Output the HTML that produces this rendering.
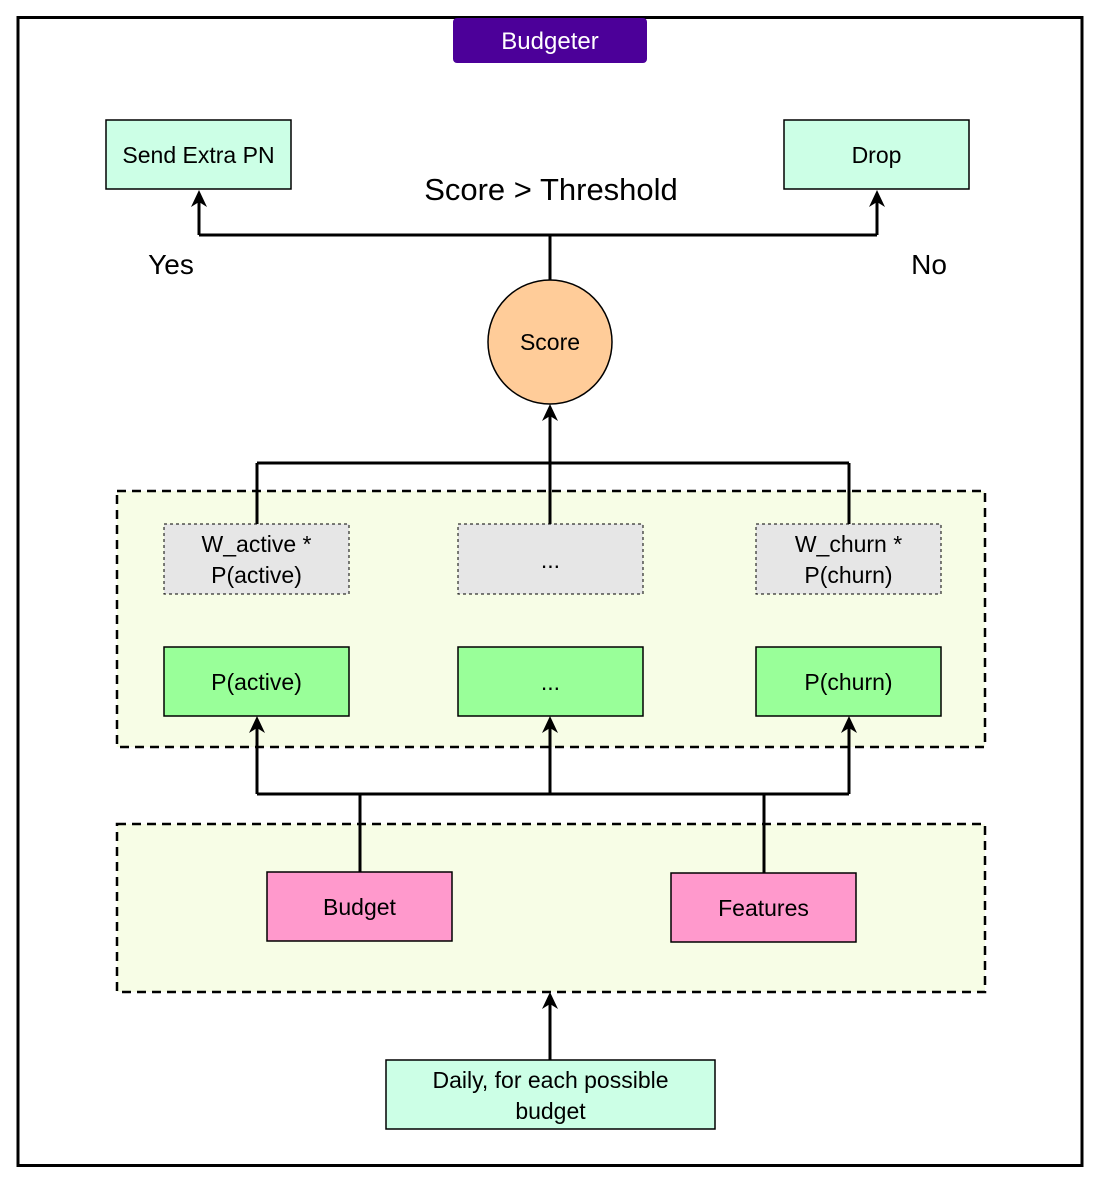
<!DOCTYPE html>
<html><head><meta charset="utf-8"><style>
html,body{margin:0;padding:0;background:#fff;}
svg{display:block;}
text{font-family:"Liberation Sans",Arial,sans-serif;fill:#000;}
</style></head><body>
<svg width="1100" height="1183" viewBox="0 0 1100 1183" xmlns="http://www.w3.org/2000/svg">
<rect x="0" y="0" width="1100" height="1183" fill="#fff"/>
<rect x="18" y="17.5" width="1064" height="1148" fill="#fff" stroke="#000" stroke-width="3"/>
<rect x="453" y="18" width="194" height="45" rx="4" fill="#4C0099"/>
<text x="550" y="49" font-size="24" text-anchor="middle" style="fill:#fff">Budgeter</text>

<rect x="106" y="120" width="185" height="69" fill="#CCFFE6" stroke="#000" stroke-width="1.5"/>
<text x="198.5" y="163" font-size="23" text-anchor="middle">Send Extra PN</text>
<rect x="784" y="120" width="185" height="69" fill="#CCFFE6" stroke="#000" stroke-width="1.5"/>
<text x="876.5" y="163" font-size="23" text-anchor="middle">Drop</text>
<text x="551" y="200" font-size="31" text-anchor="middle">Score &gt; Threshold</text>
<text x="171" y="274" font-size="28" text-anchor="middle">Yes</text>
<text x="929" y="274" font-size="28" text-anchor="middle">No</text>

<g fill="none" stroke="#000" stroke-width="3">
<path d="M550 280 V235 M199 235 H877 M199 235 V200 M877 235 V200"/>
<path d="M550 463 V415 M257 463 H849 M257 463 V524 M849 463 V524 M550 463 V524"/>
<path d="M550 1060 V1004"/>
</g>
<g fill="#000">
<path d="M199 190 L191 207 L199 202 L207 207 Z"/>
<path d="M877 190 L869 207 L877 202 L885 207 Z"/>
<path d="M550 404 L542 421 L550 416 L558 421 Z"/>
<path d="M550 992 L542 1009 L550 1004 L558 1009 Z"/>
</g>

<circle cx="550" cy="342" r="62" fill="#FFCC99" stroke="#000" stroke-width="1.5"/>
<text x="550" y="350" font-size="23" text-anchor="middle">Score</text>

<rect x="117" y="491" width="868" height="256" fill="#F7FDE6" stroke="#000" stroke-width="2.5" stroke-dasharray="9,6"/>
<g fill="#E6E6E6" stroke="#000" stroke-width="1" stroke-dasharray="3,3">
<rect x="164" y="524" width="185" height="70"/>
<rect x="458" y="524" width="185" height="70"/>
<rect x="756" y="524" width="185" height="70"/>
</g>
<path d="M257 491 V524 M550 491 V524 M849 491 V524" stroke="#000" stroke-width="3"/>
<text x="256.5" y="552" font-size="23" text-anchor="middle">W_active *</text>
<text x="256.5" y="583" font-size="23" text-anchor="middle">P(active)</text>
<text x="550.5" y="568" font-size="23" text-anchor="middle">...</text>
<text x="848.5" y="552" font-size="23" text-anchor="middle">W_churn *</text>
<text x="848.5" y="583" font-size="23" text-anchor="middle">P(churn)</text>
<g fill="#99FF99" stroke="#000" stroke-width="1.5">
<rect x="164" y="647" width="185" height="69"/>
<rect x="458" y="647" width="185" height="69"/>
<rect x="756" y="647" width="185" height="69"/>
</g>
<text x="256.5" y="690" font-size="23" text-anchor="middle">P(active)</text>
<text x="550.5" y="690" font-size="23" text-anchor="middle">...</text>
<text x="848.5" y="690" font-size="23" text-anchor="middle">P(churn)</text>

<rect x="117" y="824" width="868" height="168" fill="#F7FDE6" stroke="#000" stroke-width="2.5" stroke-dasharray="9,6"/>
<rect x="267" y="872" width="185" height="69" fill="#FF99CC" stroke="#000" stroke-width="1.5"/>
<text x="359.5" y="915" font-size="23" text-anchor="middle">Budget</text>
<rect x="671" y="873" width="185" height="69" fill="#FF99CC" stroke="#000" stroke-width="1.5"/>
<text x="763.5" y="916" font-size="23" text-anchor="middle">Features</text>

<g fill="none" stroke="#000" stroke-width="3">
<path d="M257 794 H849 M257 794 V728 M550 794 V728 M849 794 V728 M360 794 V872 M764 794 V873"/>
</g>
<g fill="#000">
<path d="M257 716 L249 733 L257 728 L265 733 Z"/>
<path d="M550 716 L542 733 L550 728 L558 733 Z"/>
<path d="M849 716 L841 733 L849 728 L857 733 Z"/>
</g>

<rect x="386" y="1060" width="329" height="69" fill="#CCFFE6" stroke="#000" stroke-width="1.5"/>
<text x="550.5" y="1088" font-size="23" text-anchor="middle">Daily, for each possible</text>
<text x="550.5" y="1119" font-size="23" text-anchor="middle">budget</text>
</svg>
</body></html>
